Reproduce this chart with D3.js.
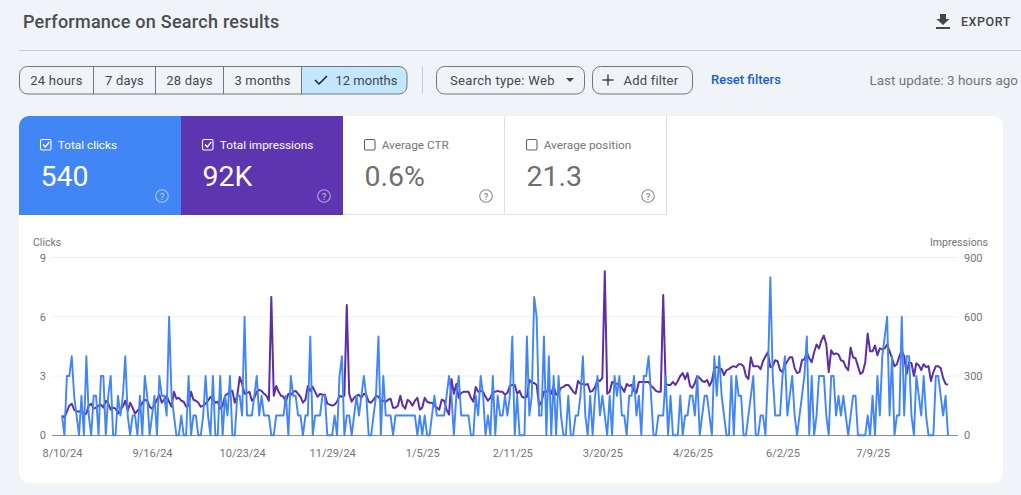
<!DOCTYPE html>
<html><head><meta charset="utf-8">
<style>
html,body{margin:0;padding:0;background:#f0f4f9;overflow:hidden}
svg{display:block;font-family:Roboto,sans-serif}
</style>
<script src="https://cdnjs.cloudflare.com/ajax/libs/d3/7.8.5/d3.min.js"></script>
</head><body><svg id="c" width="1021" height="495"></svg>
<script>
const startDate = "8/10/24";
const tickDates = ["8/10/24","9/16/24","10/23/24","11/29/24","1/5/25","2/11/25","3/20/25","4/26/25","6/2/25","7/9/25"];
const clickTicks = [0,3,6,9];
const impressionTicks = [0,300,600,900];
const clicks = [
1,0,3,3,4,2,1,0,2,0,
4,1,0,2,2,0,3,3,0,2,
3,0,0,2,1,2,4,1,0,1,
1,0,2,0,3,2,0,1,2,0,
3,2,2,1,6,2,1,0,0,1,
0,0,3,0,1,1,0,0,1,3,
1,0,3,0,0,3,0,2,1,3,
0,0,2,2,1,6,1,1,1,2,
3,1,2,1,1,1,0,0,1,1,
1,1,2,0,3,2,2,1,1,0,
1,1,5,0,1,1,1,2,2,0,
0,0,1,0,3,4,0,1,1,0,
1,2,1,2,3,2,0,0,1,2,
5,0,3,1,1,1,0,1,1,1,
1,1,1,1,1,1,0,1,0,1,
0,0,1,2,1,1,1,1,2,3,
2,0,2,3,1,1,1,1,0,0,
2,1,3,2,0,1,0,3,0,2,
1,1,2,1,2,5,0,2,0,0,
0,5,1,2,7,6,1,1,5,0,
4,0,3,0,3,1,0,0,2,0,
0,1,1,2,4,1,0,2,0,2,
3,1,2,1,0,2,0,3,2,3,
1,1,0,2,2,3,1,2,0,3,
3,4,2,0,0,1,1,1,3,0,
2,0,0,0,2,0,1,1,2,2,
1,3,0,1,2,2,1,0,4,2,
4,2,1,0,0,3,0,3,2,2,
0,0,1,2,3,0,0,1,1,0,
3,8,3,1,1,1,3,4,1,2,
3,1,0,1,2,3,5,0,3,0,
1,3,3,3,1,0,3,3,1,2,
1,2,1,0,1,2,2,0,0,0,
0,1,0,2,0,3,1,4,5,6,
1,4,0,1,1,6,1,4,4,1,
0,3,2,1,3,1,0,0,0,3,
3,2,1,2,0];
const impressions = [
100,90,120,150,160,130,120,120,125,105,
110,150,160,135,140,150,155,140,175,160,
130,140,135,110,130,145,175,125,165,140,
110,125,140,165,180,175,145,135,150,180,
205,165,180,200,170,145,220,185,190,175,
170,145,150,220,180,175,165,145,150,160,
175,195,180,165,170,135,150,200,210,220,
225,165,200,295,260,210,215,220,175,190,
220,230,225,210,200,175,700,200,250,220,
200,195,170,210,205,220,225,210,195,165,
180,250,225,245,220,195,210,205,205,160,
155,150,155,170,200,195,200,660,210,170,
190,200,205,190,210,205,170,165,180,200,
195,175,175,170,180,185,140,140,150,200,
150,135,180,170,150,175,190,130,140,190,
170,165,165,150,140,130,180,175,130,105,
285,210,260,190,215,220,220,220,190,170,
245,220,225,220,195,175,190,220,220,225,
220,220,205,215,250,255,255,210,225,195,
190,195,280,265,265,255,150,170,220,220,
230,210,250,205,215,240,245,255,255,240,
220,210,275,260,260,255,260,220,225,245,
280,275,290,830,210,220,270,265,260,260,
240,220,260,250,255,225,215,270,270,270,
270,270,250,240,225,220,220,710,260,255,
255,270,255,275,300,315,285,315,250,240,
265,300,290,275,270,280,250,275,340,345,
340,335,305,330,335,345,350,345,360,360,
350,300,285,395,350,350,350,335,375,400,
420,345,350,380,375,330,320,355,375,395,
395,340,315,320,380,385,420,390,370,420,
460,440,480,505,460,320,430,410,415,410,
380,375,345,330,445,395,390,350,310,320,
370,515,425,425,455,405,440,435,440,460,
425,390,350,360,400,430,400,310,370,365,
300,365,355,330,360,345,350,275,320,350,
350,340,290,260,255];
const rangeLabels = ["24 hours","7 days","28 days","3 months","12 months"];
const tileLabels = ["Total clicks","Total impressions","Average CTR","Average position"];
const tileValues = ["540","92K","0.6%","21.3"];

const svg = d3.select("#c");
const parse = d3.utcParse("%m/%d/%y"), fmt = d3.utcFormat("%-m/%-d/%y");
const t0 = parse(startDate);
const dates = clicks.map((_,i)=>d3.utcDay.offset(t0,i));

// header
svg.append("text").attr("x",23).attr("y",28).attr("font-size",18).attr("font-weight",500).attr("letter-spacing",.25).attr("fill","#4a4d4c").text("Performance on Search results");
svg.append("line").attr("x1",19).attr("x2",1021).attr("y1",50.5).attr("y2",50.5).attr("stroke","#c8cbcf");
svg.append("path").attr("d","M940 14h6v5h3.5l-6.5 6-6.5-6h3.5zM936 27h14v2h-14z").attr("fill","#444746");
svg.append("text").attr("x",961).attr("y",26).attr("font-size",12.5).attr("font-weight",500).attr("fill","#444746").attr("letter-spacing",.55).text("EXPORT");

// range segment
const segEdges=[19,93,155,223,301,407];
svg.append("path").attr("d","M301 66.5h98a8 8 0 0 1 8 8v11.5a8 8 0 0 1-8 8h-98z").attr("fill","#c2e7ff");
svg.append("rect").attr("x",19.5).attr("y",66.5).attr("width",387.5).attr("height",27.5).attr("rx",8).attr("fill","none").attr("stroke","#747775");
segEdges.slice(1,5).forEach(x=>svg.append("line").attr("x1",x+.5).attr("x2",x+.5).attr("y1",66.5).attr("y2",94).attr("stroke","#747775"));
rangeLabels.forEach((t,i)=>{
  const last=i===4, cx=(segEdges[i]+segEdges[i+1])/2+(last?12:0);
  svg.append("text").attr("x",cx+.5).attr("y",84.5).attr("text-anchor","middle").attr("font-size",13).attr("fill","#444746").attr("letter-spacing",last?0:.2).text(t);
});
svg.append("path").attr("d","M315 80l4 4 8-8").attr("fill","none").attr("stroke","#1f1f1f").attr("stroke-width",1.5);
svg.append("line").attr("x1",422.5).attr("x2",422.5).attr("y1",66).attr("y2",94).attr("stroke","#c8cbcf");
// filters
svg.append("rect").attr("x",436.5).attr("y",66.5).attr("width",148).attr("height",27.5).attr("rx",8).attr("fill","none").attr("stroke","#747775");
svg.append("text").attr("x",450).attr("y",84.5).attr("font-size",13).attr("fill","#444746").attr("letter-spacing",.32).text("Search type: Web");
svg.append("path").attr("d","M566 78h8l-4 4z").attr("fill","#444746");
svg.append("rect").attr("x",592.5).attr("y",66.5).attr("width",100).attr("height",27.5).attr("rx",8).attr("fill","none").attr("stroke","#747775");
svg.append("path").attr("d","M608 74.500v11M602.500 80h11").attr("stroke","#444746").attr("stroke-width",1.5);
svg.append("text").attr("x",623.5).attr("y",84.5).attr("font-size",13).attr("fill","#444746").attr("letter-spacing",.2).text("Add filter");
svg.append("text").attr("x",711).attr("y",84).attr("font-size",13).attr("font-weight",500).attr("fill","#1a5fc9").text("Reset filters");
svg.append("text").attr("x",1018).attr("y",85).attr("text-anchor","end").attr("font-size",13.5).attr("fill","#747775").text("Last update: 3 hours ago");

// card
svg.append("rect").attr("x",19).attr("y",116).attr("width",984).attr("height",367).attr("rx",10).attr("fill","#fff");
const tileX=[19,181,343,505], tileW=162;
const tileFill=["#4285f4","#5e35b1",null,null];
tileX.forEach((x,i)=>{
  const on=i<2, g=svg.append("g").attr("transform",`translate(${x},116)`);
  if(on){
    g.append("path").attr("d", i===0
      ? `M0 99V10a10 10 0 0 1 10-10H${tileW}V99z`
      : `M0 0H${tileW}V99H0z`).attr("fill",tileFill[i]);
  } else {
    g.append("path").attr("d",`M${tileW-.5} 0V98.500H0`).attr("fill","none").attr("stroke","#e0e0e0");
  }
  const col=on?"#fff":"#747775";
  g.append("rect").attr("x",21.5).attr("y",23.5).attr("width",10.5).attr("height",10.5).attr("rx",1.5).attr("fill","none").attr("stroke",on?"#fff":"#5f6368").attr("stroke-width",1.1);
  if(on) g.append("path").attr("d","M24 28.500l2.300 2.500 4-5").attr("fill","none").attr("stroke","#fff").attr("stroke-width",1.3);
  g.append("text").attr("x",38.7).attr("y",33).attr("font-size",11.8).attr("fill",col).text(tileLabels[i]);
  g.append("text").attr("x",21.5).attr("y",70).attr("font-size",28.5).attr("fill",on?"#fff":"#6f6f6f").text(tileValues[i]);
  const hc=on?"rgba(255,255,255,.55)":"#8a8a8a";
  g.append("circle").attr("cx",143).attr("cy",80).attr("r",6.3).attr("fill","none").attr("stroke",hc).attr("stroke-width",1.1);
  g.append("text").attr("x",143).attr("y",83.500).attr("text-anchor","middle").attr("font-size",9.500).attr("font-weight",500).attr("fill",hc).text("?");
});

// chart
const xL=52, xR=958;
const x=d3.scaleUtc().domain([t0,dates[dates.length-1]]).range([62,948]);
const yC=d3.scaleLinear().domain([0,9]).range([435.3,257.500]);
const yI=d3.scaleLinear().domain([0,900]).range([435.3,257.500]);
clickTicks.forEach(v=>{ if(v) svg.append("line").attr("x1",xL).attr("x2",xR).attr("y1",yC(v)).attr("y2",yC(v)).attr("stroke","#eceff2"); });
const lab=s=>s.attr("font-family","Roboto,sans-serif").attr("font-size",11).attr("fill","#70757a");
svg.append("text").attr("x",33).attr("y",246).call(lab).attr("font-size",10.500).text("Clicks");
svg.append("text").attr("x",988).attr("y",246).attr("text-anchor","end").call(lab).attr("font-size",10.600).text("Impressions");
const ax=(g,c)=>{g.selectAll(".domain").remove();g.selectAll("line").remove();g.selectAll("text").call(lab);};
svg.append("g").attr("transform","translate(46,0)").call(d3.axisLeft(yC).tickValues(clickTicks).tickSize(0).tickPadding(0).tickFormat(d3.format("d"))).call(ax);
svg.append("g").attr("transform","translate(964,0)").call(d3.axisRight(yI).tickValues(impressionTicks).tickSize(0).tickPadding(0).tickFormat(d3.format("d"))).call(ax);
svg.append("g").attr("transform","translate(0,449)").call(d3.axisBottom(x).tickValues(tickDates.map(parse)).tickSize(0).tickPadding(0).tickFormat(fmt)).call(ax);
svg.append("line").attr("x1",xL).attr("x2",xR).attr("y1",435.5).attr("y2",435.5).attr("stroke","#8a8d91");
const line=y=>d3.line().x((d,i)=>x(dates[i])).y(d=>y(d)).curve(d3.curveLinear);
svg.append("path").datum(impressions).attr("d",line(yI)).attr("fill","none").attr("stroke","#5b2fa8").attr("stroke-width",2).attr("stroke-linejoin","round");
svg.append("path").datum(clicks).attr("d",line(yC)).attr("fill","none").attr("stroke","#4285f4").attr("stroke-width",1.9).attr("stroke-linejoin","round");
</script></body></html>
